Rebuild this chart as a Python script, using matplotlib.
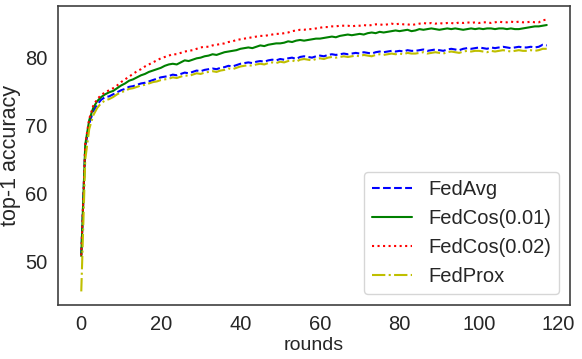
import matplotlib
matplotlib.use("Agg")
import matplotlib.pyplot as plt
import seaborn as sns

sns.set_style("white")
plt.rcParams['font.family'] = ['Liberation Sans', 'DejaVu Sans']

fedavg = [
    51.0, 66.8, 70.3, 72.1, 73.1, 73.8, 74.2, 74.3, 74.6, 74.9,
    75.2, 75.4, 75.7, 75.8, 76.0, 76.2, 76.3, 76.5, 76.7, 76.9,
    77.1, 77.2, 77.3, 77.5, 77.4, 77.6, 77.8, 77.7, 77.9, 78.1,
    78.0, 78.2, 78.3, 78.4, 78.3, 78.5, 78.6, 78.8, 78.7, 78.9,
    79.1, 79.2, 79.3, 79.2, 79.4, 79.5, 79.4, 79.6, 79.7, 79.6,
    79.8, 79.7, 79.9, 80.0, 79.8, 80.1, 80.2, 80.1, 80.0, 80.2,
    80.3, 80.2, 80.4, 80.5, 80.4, 80.5, 80.6, 80.5, 80.6, 80.7,
    80.6, 80.8, 80.7, 80.6, 80.8, 80.9, 80.8, 80.9, 81.0, 80.9,
    81.0, 80.9, 81.1, 81.0, 81.0, 81.1, 81.2, 81.0, 81.1, 81.2,
    81.1, 81.0, 81.2, 81.3, 81.2, 81.1, 81.3, 81.4, 81.3, 81.4,
    81.5, 81.4, 81.3, 81.5, 81.4, 81.5, 81.6, 81.5, 81.4, 81.5,
    81.6, 81.5, 81.5, 81.6, 81.5, 81.6, 81.9, 81.8,
]
fedcos_001 = [
    50.8, 67.2, 70.8, 72.6, 73.6, 74.2, 74.6, 74.9, 75.1, 75.5,
    75.9, 76.2, 76.6, 76.8, 77.1, 77.4, 77.6, 77.9, 78.1, 78.3,
    78.5, 78.8, 79.0, 79.1, 79.0, 79.3, 79.6, 79.5, 79.7, 79.9,
    80.0, 80.2, 80.3, 80.5, 80.4, 80.6, 80.8, 80.9, 81.0, 81.1,
    81.3, 81.4, 81.5, 81.4, 81.6, 81.8, 81.7, 81.9, 82.0, 82.1,
    82.1, 82.2, 82.4, 82.3, 82.5, 82.6, 82.5, 82.6, 82.7, 82.8,
    82.8, 82.9, 83.0, 83.1, 83.0, 83.2, 83.3, 83.4, 83.3, 83.4,
    83.5, 83.4, 83.6, 83.7, 83.6, 83.8, 83.7, 83.8, 83.9, 84.0,
    83.9, 84.0, 84.1, 83.9, 84.0, 84.2, 84.1, 84.2, 84.3, 84.2,
    84.1, 84.2, 84.3, 84.2, 84.3, 84.2, 84.1, 84.2, 84.3, 84.2,
    84.3, 84.2, 84.3, 84.3, 84.2, 84.3, 84.3, 84.2, 84.3, 84.2,
    84.2, 84.3, 84.4, 84.5, 84.6, 84.6, 84.7, 84.8,
]
fedcos_002 = [
    50.9, 67.3, 71.0, 72.9, 73.9, 74.5, 74.9, 75.2, 75.5, 75.9,
    76.4, 76.8, 77.2, 77.6, 78.0, 78.3, 78.7, 79.0, 79.3, 79.6,
    79.9, 80.1, 80.3, 80.5, 80.5, 80.7, 80.9, 81.0, 81.1, 81.3,
    81.5, 81.6, 81.6, 81.8, 81.9, 82.0, 82.1, 82.3, 82.4, 82.6,
    82.7, 82.8, 82.9, 83.0, 83.1, 83.2, 83.2, 83.3, 83.4, 83.5,
    83.5, 83.6, 83.7, 83.9, 84.0, 84.1, 84.1, 84.2, 84.2, 84.3,
    84.4, 84.5, 84.5, 84.6, 84.6, 84.7, 84.7, 84.7, 84.6, 84.7,
    84.7, 84.8, 84.7, 84.8, 84.9, 84.9, 84.8, 84.9, 85.0, 84.9,
    85.0, 84.9, 84.9, 84.8, 84.9, 85.0, 85.1, 85.0, 85.1, 85.0,
    85.1, 85.0, 85.1, 85.1, 85.0, 85.2, 85.1, 85.2, 85.1, 85.2,
    85.1, 85.2, 85.2, 85.1, 85.2, 85.3, 85.2, 85.2, 85.3, 85.2,
    85.3, 85.2, 85.2, 85.3, 85.2, 85.2, 85.5, 85.6,
]
fedprox = [
    45.6, 65.0, 69.5, 71.5, 72.6, 73.3, 73.7, 73.9, 74.2, 74.6,
    74.9, 75.1, 75.4, 75.5, 75.7, 75.9, 76.0, 76.2, 76.4, 76.5,
    76.7, 76.8, 76.9, 77.1, 77.0, 77.2, 77.4, 77.3, 77.5, 77.7,
    77.6, 77.8, 77.9, 78.0, 77.9, 78.1, 78.2, 78.4, 78.3, 78.5,
    78.7, 78.8, 78.9, 78.8, 79.0, 79.1, 79.0, 79.2, 79.3, 79.2,
    79.4, 79.3, 79.5, 79.6, 79.4, 79.7, 79.8, 79.7, 79.6, 79.8,
    79.9, 79.8, 80.0, 80.1, 80.0, 80.1, 80.2, 80.1, 80.2, 80.3,
    80.2, 80.4, 80.3, 80.2, 80.4, 80.5, 80.4, 80.5, 80.6, 80.5,
    80.6, 80.5, 80.7, 80.6, 80.6, 80.7, 80.8, 80.6, 80.7, 80.8,
    80.7, 80.6, 80.8, 80.9, 80.8, 80.7, 80.9, 81.0, 80.9, 81.0,
    81.0, 80.9, 80.8, 81.0, 80.9, 81.0, 81.1, 81.0, 80.9, 81.0,
    81.1, 81.0, 81.0, 81.1, 81.0, 81.1, 81.3, 81.3,
]
rounds = list(range(len(fedavg)))

fig, ax = plt.subplots(figsize=(5.82, 3.59), dpi=100)
fig.subplots_adjust(left=58/582, right=570/582, top=1-6/359, bottom=1-305/359)

ax.plot(rounds, fedavg, 'b--', lw=1.5, label='FedAvg')
ax.plot(rounds, fedcos_001, 'g-', lw=1.5, label='FedCos(0.01)')
ax.plot(rounds, fedcos_002, 'r:', lw=1.5, label='FedCos(0.02)')
ax.plot(rounds, fedprox, 'y-.', lw=1.5, label='FedProx')

ax.set_xticks([0, 20, 40, 60, 80, 100, 120])
ax.set_yticks([50, 60, 70, 80])
ax.tick_params(labelsize=14.5, pad=4)
ax.set_xlabel("rounds", fontsize=14, labelpad=2)
ax.set_ylabel("top-1 accuracy", fontsize=15.5, labelpad=3)
for s in ax.spines.values():
    s.set_color('.25')
    s.set_linewidth(1.2)

ax.legend(loc='lower right', fontsize=14.5, handlelength=2.0,
          borderaxespad=0.55)

plt.savefig("out.png", dpi=100)
